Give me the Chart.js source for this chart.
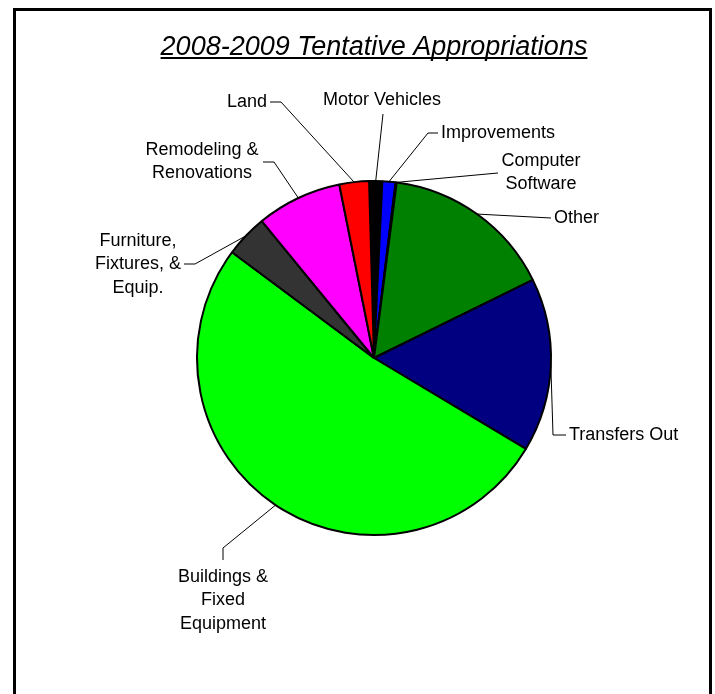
<!DOCTYPE html>
<html>
<head>
<meta charset="utf-8">
<title>2008-2009 Tentative Appropriations</title>
<script src="https://cdn.jsdelivr.net/npm/chart.js@4.4.1/dist/chart.umd.min.js"></script>
<style>
  html, body { margin: 0; padding: 0; background: #fff; }
  canvas { display: block; }
</style>
</head>
<body>
<canvas id="appropriations" width="715" height="694"></canvas>
<script>
// Appropriation categories, clockwise from the top of the pie
const categories = [
    'Motor Vehicles', 'Improvements', 'Computer Software', 'Other', 'Transfers Out',
    'Buildings & Fixed Equipment', 'Furniture, Fixtures, & Equip.', 'Remodeling & Renovations', 'Land'
];
// Share of the total budget (percent)
const shares = [1.2, 1.2, 0.1, 15.7, 15.9, 51.7, 3.9, 7.8, 2.7];
const sliceColors = ['#000000', '#0000ff', '#00ffff', '#008000', '#000080', '#00ff00', '#333333', '#ff00ff', '#ff0000'];

// Wrapped text for each callout
const calloutLines = [
    ['Motor Vehicles'],
    ['Improvements'],
    ['Computer', 'Software'],
    ['Other'],
    ['Transfers Out'],
    ['Buildings &', 'Fixed', 'Equipment'],
    ['Furniture,', 'Fixtures, &', 'Equip.'],
    ['Remodeling &', 'Renovations'],
    ['Land']
];

const TITLE = '2008-2009 Tentative Appropriations';
const FONT = '"Liberation Sans", Arial, sans-serif';

// Callout placement relative to the pie centre: text anchor, leader start, optional elbow
const calloutPos = [
    { tx: 8,    ty: -258, align: 'center', start: [9, -244],    elbow: null },
    { tx: 67,   ty: -225, align: 'left',   start: [64, -225],   elbow: [54, -225] },
    { tx: 167,  ty: -197, align: 'center', start: [124, -185],  elbow: [113, -184] },
    { tx: 180,  ty: -140, align: 'left',   start: [177, -140],  elbow: null },
    { tx: 195,  ty: 77,   align: 'left',   start: [192, 77],    elbow: [179, 77] },
    { tx: -151, ty: 219,  align: 'center', start: [-151, 202],  elbow: [-151, 190] },
    { tx: -236, ty: -117, align: 'center', start: [-190, -94],  elbow: [-179, -94] },
    { tx: -172, ty: -208, align: 'center', start: [-111, -196], elbow: [-100, -196] },
    { tx: -127, ty: -256, align: 'center', start: [-104, -256], elbow: [-93, -256] }
];

// Frame and underlined italic title
const framePlugin = {
    id: 'frame',
    beforeDraw(chart) {
        const ctx = chart.ctx;
        ctx.save();
        ctx.fillStyle = '#fff';
        ctx.fillRect(0, 0, chart.width, chart.height);
        ctx.strokeStyle = '#000';
        ctx.lineWidth = 3;
        ctx.strokeRect(14.5, 9.5, 696, 700);

        ctx.font = 'italic 27px ' + FONT;
        ctx.fillStyle = '#000';
        ctx.textAlign = 'center';
        ctx.textBaseline = 'alphabetic';
        const cx = 374;
        ctx.fillText(TITLE, cx, 55);
        const w = ctx.measureText(TITLE).width;
        ctx.fillRect(cx - w / 2, 57, w, 2);
        ctx.restore();
    }
};

// Leader lines and slice names
const calloutPlugin = {
    id: 'callouts',
    afterDatasetsDraw(chart) {
        const ctx = chart.ctx;
        const arcs = chart.getDatasetMeta(0).data;
        ctx.save();
        ctx.font = '18px ' + FONT;
        ctx.fillStyle = '#000';
        ctx.strokeStyle = '#000';
        ctx.lineWidth = 1;
        ctx.textBaseline = 'middle';
        arcs.forEach((arc, i) => {
            const p = calloutPos[i];
            const { x, y, startAngle, endAngle, outerRadius } = arc.getProps(['x', 'y', 'startAngle', 'endAngle', 'outerRadius'], true);
            const mid = (startAngle + endAngle) / 2;
            const ex = x + outerRadius * Math.cos(mid);
            const ey = y + outerRadius * Math.sin(mid);

            ctx.beginPath();
            ctx.moveTo(x + p.start[0], y + p.start[1]);
            if (p.elbow) ctx.lineTo(x + p.elbow[0], y + p.elbow[1]);
            ctx.lineTo(ex, ey);
            ctx.stroke();

            ctx.textAlign = p.align;
            calloutLines[i].forEach((line, k) => {
                ctx.fillText(line, x + p.tx, y + p.ty + k * 23.5);
            });
        });
        ctx.restore();
    }
};

new Chart(document.getElementById('appropriations'), {
    type: 'pie',
    data: {
        labels: categories,
        datasets: [{
            data: shares,
            backgroundColor: sliceColors,
            borderColor: '#000',
            borderWidth: 2
        }]
    },
    options: {
        responsive: false,
        animation: false,
        rotation: -1.6,
        radius: 177,
        layout: { padding: { left: 196, right: 163, top: 180, bottom: 158 } },
        plugins: {
            legend: { display: false },
            tooltip: { enabled: false },
            title: { display: false }
        }
    },
    plugins: [framePlugin, calloutPlugin]
});
</script>
</body>
</html>
